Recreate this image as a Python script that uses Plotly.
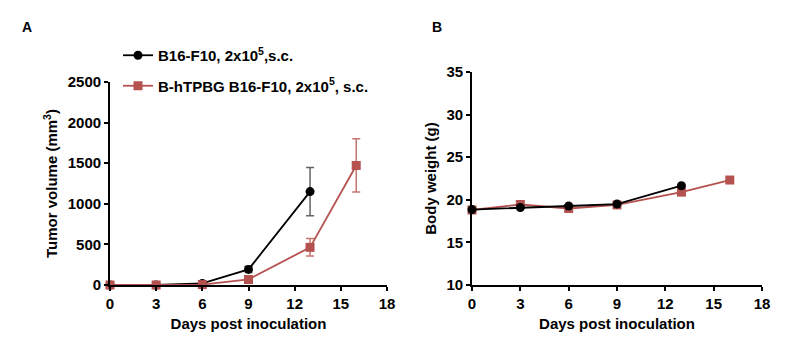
import plotly.graph_objects as go

days_black = [0, 3, 6, 9, 13]
days_red = [0, 3, 6, 9, 13, 16]

tumor_black = [0, 0, 20, 192, 1150]
tumor_black_err = [0, 0, 8, 38, 297]
tumor_red = [0, 0, 5, 68, 464, 1472]
tumor_red_err = [0, 0, 3, 15, 108, 328]

weight_black = [18.85, 19.1, 19.27, 19.5, 21.65]
weight_red = [18.8, 19.45, 18.98, 19.4, 20.9, 22.32]

name_black = "B16-F10, 2x10<sup>5</sup>,s.c."
name_red = "B-hTPBG B16-F10, 2x10<sup>5</sup>, s.c."

BLACK = "#000000"
RED = "#B5514F"
FONT = "Liberation Sans, Arial, sans-serif"

fig = go.Figure()

fig.add_trace(go.Scatter(
    x=days_black, y=tumor_black, name=name_black, mode="lines+markers",
    legendgroup="black",
    line=dict(color=BLACK, width=1.8),
    marker=dict(symbol="circle", size=9, color=BLACK),
    error_y=dict(type="data", array=tumor_black_err, visible=True,
                 color="rgba(60,60,60,0.8)", thickness=1.5, width=4),
    cliponaxis=False, xaxis="x", yaxis="y"))
fig.add_trace(go.Scatter(
    x=days_red, y=tumor_red, name=name_red, mode="lines+markers",
    legendgroup="red",
    line=dict(color=RED, width=1.8),
    marker=dict(symbol="square", size=9, color=RED),
    error_y=dict(type="data", array=tumor_red_err, visible=True,
                 color="rgba(181,81,79,0.8)", thickness=1.5, width=4),
    cliponaxis=False, xaxis="x", yaxis="y"))

fig.add_trace(go.Scatter(
    x=days_red, y=weight_red, name=name_red, mode="lines+markers",
    legendgroup="red",
    line=dict(color=RED, width=1.8),
    marker=dict(symbol="square", size=9, color=RED),
    showlegend=False, cliponaxis=False, xaxis="x2", yaxis="y2"))
fig.add_trace(go.Scatter(
    x=days_black, y=weight_black, name=name_black, mode="lines+markers",
    legendgroup="black",
    line=dict(color=BLACK, width=1.8),
    marker=dict(symbol="circle", size=9, color=BLACK),
    showlegend=False, cliponaxis=False, xaxis="x2", yaxis="y2"))

tickfont = dict(family=FONT, size=15, color="black", weight="bold")
titlefont = dict(family=FONT, size=15, color="black", weight="bold")

common_x = dict(range=[0, 18], tickvals=[0, 3, 6, 9, 12, 15, 18], showgrid=False,
                zeroline=False, showline=True, linecolor="black", linewidth=1.8,
                ticks="outside", ticklen=4, tickwidth=1.5, tickcolor="black", automargin=False,
                tickfont=tickfont, title=dict(text="Days post inoculation", font=titlefont, standoff=8))
common_y = dict(showgrid=False, zeroline=False, showline=True, linecolor="black", linewidth=1.8,
                ticks="outside", ticklen=4, tickwidth=1.5, tickcolor="black", automargin=False,
                tickfont=tickfont)

fig.update_layout(
    width=805, height=354, margin=dict(l=0, r=0, t=0, b=0, pad=0, autoexpand=False),
    paper_bgcolor="white", plot_bgcolor="white",
    xaxis=dict(domain=[110/805, 387/805], anchor="y", **common_x),
    yaxis=dict(domain=[1-285/354, 1-82/354], anchor="x", range=[0, 2500],
               tickvals=[0, 500, 1000, 1500, 2000, 2500],
               title=dict(text="Tumor volume (mm<sup>3</sup>)", font=titlefont, standoff=6),
               **common_y),
    xaxis2=dict(domain=[472/805, 762/805], anchor="y2", **common_x),
    yaxis2=dict(domain=[1-285/354, 1-72/354], anchor="x2", range=[10, 35],
                tickvals=[10, 15, 20, 25, 30, 35],
                title=dict(text="Body weight (g)", font=titlefont, standoff=6),
                **common_y),
    legend=dict(x=118/805, y=1-39/354, xanchor="left", yanchor="top",
                font=dict(family=FONT, size=15, color="black", weight="bold"),
                bgcolor="rgba(0,0,0,0)", traceorder="grouped", tracegroupgap=8, itemwidth=30),
    annotations=[
        dict(text="A", x=27/805, y=1-27/354, xref="paper", yref="paper", showarrow=False,
             xanchor="center", yanchor="middle", font=dict(family=FONT, size=14, color="black", weight="bold")),
        dict(text="B", x=437/805, y=1-27/354, xref="paper", yref="paper", showarrow=False,
             xanchor="center", yanchor="middle", font=dict(family=FONT, size=14, color="black", weight="bold")),
    ],
)

fig.write_html("out.html")
